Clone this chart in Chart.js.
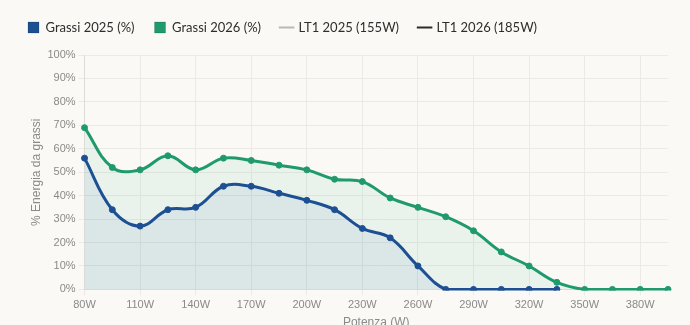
<!DOCTYPE html>
<html>
<head>
<meta charset="utf-8">
<script src="https://cdn.jsdelivr.net/npm/chart.js@4/dist/chart.umd.min.js"></script>
<style>
html,body{margin:0;padding:0;background:#faf9f6;overflow:hidden;}
#wrap{position:relative;width:690px;height:334px;}
</style>
</head>
<body>
<div id="wrap"><canvas id="c"></canvas></div>
<script>
const categories = [80,95,110,125,140,155,170,185,200,215,230,245,260,275,290,305,320,335,350,365,380,395];
const grassi2025 = [56,34,27,34,35,44,44,41,38,34,26,22,10,0,0,0,0,0,null,null,null,null];
const grassi2026 = [69,52,51,57,51,56,55,53,51,47,46,39,35,31,25,16,10,3,0,0,0,0];
const yTicks = [0,10,20,30,40,50,60,70,80,90,100];

const blue = '#1d4f93';
const green = '#1f9a6e';
const clipArea = {left: 6, right: 6, top: 6, bottom: 1};

const legendGap = {
  id: 'legendGap',
  beforeInit(chart) {
    const fit = chart.legend.fit;
    chart.legend.fit = function() {
      fit.call(this);
      this.height += 11;
    };
  }
};

new Chart(document.getElementById('c'), {
  type: 'line',
  data: {
    labels: categories.map(v => v + 'W'),
    datasets: [
      {label:'Grassi 2025 (%)', data: grassi2025, borderColor: blue, backgroundColor:'rgba(29,79,147,0.07)', fill:'origin', tension:0.4, borderWidth:3, pointRadius:3, pointBorderWidth:1, pointBackgroundColor: blue, pointBorderColor: blue, clip: clipArea},
      {label:'Grassi 2026 (%)', data: grassi2026, borderColor: green, backgroundColor:'rgba(31,154,110,0.07)', fill:'origin', tension:0.4, borderWidth:3, pointRadius:3, pointBorderWidth:1, pointBackgroundColor: green, pointBorderColor: green, clip: clipArea},
      {label:'LT1 2025 (155W)', data: [], borderColor:'#b8b8b8', backgroundColor:'#b8b8b8', borderWidth:2},
      {label:'LT1 2026 (185W)', data: [], borderColor:'#2b2b2b', backgroundColor:'#2b2b2b', borderWidth:2}
    ]
  },
  plugins: [legendGap],
  options: {
    responsive: true,
    maintainAspectRatio: false,
    animation: false,
    layout: {padding: {left: 8, right: 22, top: 1}},
    plugins: {
      legend: {
        position: 'top',
        align: 'start',
        labels: {
          font: {family: 'Lato', size: 13},
          color: '#2e2e2e',
          boxWidth: 11,
          boxHeight: 11,
          padding: 20,
          usePointStyle: true,
          generateLabels: (chart) => {
            const items = Chart.defaults.plugins.legend.labels.generateLabels(chart);
            items.forEach((it, i) => {
              const ds = chart.data.datasets[i];
              it.fillStyle = ds.borderColor;
              it.strokeStyle = i < 2 ? 'rgba(0,0,0,0.15)' : ds.borderColor;
              it.pointStyle = i < 2 ? 'rect' : 'line';
              it.lineWidth = i < 2 ? 1 : 2;
            });
            return items;
          }
        }
      },
      tooltip: {enabled: false}
    },
    scales: {
      x: {
        grid: {color: '#ebeae6', tickLength: 6},
        border: {color: '#dcdcd8'},
        ticks: {color: '#8a8a8a', font: {family: 'Liberation Sans', size: 11}, maxRotation: 0, autoSkip: true, maxTicksLimit: 11},
        title: {display: true, text: 'Potenza (W)', color: '#8a8a8a', font: {family: 'Liberation Sans', size: 12}, padding: {top: 1, bottom: 4}}
      },
      y: {
        min: 0, max: 100,
        afterBuildTicks: (axis) => { axis.ticks = yTicks.map(v => ({value: v})); },
        grid: {color: '#ebeae6', tickLength: 6},
        border: {color: '#dcdcd8'},
        ticks: {color: '#8a8a8a', font: {family: 'Liberation Sans', size: 11}, callback: v => v + '%'},
        title: {display: true, text: '% Energia da grassi', color: '#8a8a8a', font: {family: 'Liberation Sans', size: 12}, padding: {top: 21, bottom: 1}}
      }
    }
  }
});
</script>
</body>
</html>
